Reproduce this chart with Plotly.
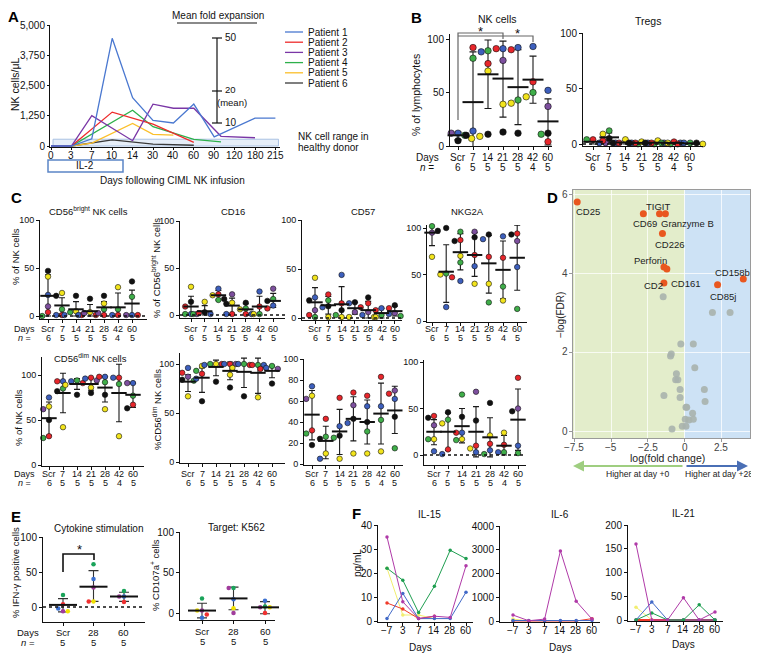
import numpy as np
import plotly.graph_objects as go

W, H = 759, 660
OFF = 8                      # page body margin of the browser
FW, FH = W - OFF, H - OFF    # figure size so that the page is exactly W x H
FONT = "Liberation Sans, Arial, Helvetica, sans-serif"

# ======================= DATA =======================
# ---- Panel A: NK cells / uL after infusion ----
a_tick_days = [0, 3, 7, 10, 14, 30, 40, 60, 90, 120, 180, 215]
a_patients = ["Patient 1", "Patient 2", "Patient 3", "Patient 4", "Patient 5", "Patient 6"]
a_p1_days = [0, 3, 7, 10, 14, 30, 40, 60, 90, 180, 215]
a_p1_vals = [0, 0, 300, 4450, 2000, 1060, 950, 1730, 380, 1150, 1150]
a_p2_days = [0, 3, 10, 30, 60]
a_p2_vals = [0, 0, 1400, 900, 150]
a_p3_days = [0, 3, 7, 14, 30, 40, 60, 100, 180]
a_p3_vals = [0, 0, 1250, 220, 1730, 1560, 1560, 400, 340]
a_p4_days = [0, 3, 14, 30, 60, 100]
a_p4_vals = [0, 0, 1480, 800, 270, 170]
a_p5_days = [0, 3, 7, 14, 30, 40]
a_p5_vals = [0, 0, 120, 930, 480, 450]
a_p6_days = [0, 3, 10, 14, 30, 60]
a_p6_vals = [0, 0, 250, 150, 80, 30]
a_healthy_range = [0, 280]
a_yticks = [0, 1250, 2500, 3750, 5000]
a_yticktext = ["0", "1,250", "2,500", "3,750", "5,000"]

# ---- shared categories ----
days_cats = ["Scr", "7", "14", "21", "28", "42", "60"]
days_n = [6, 5, 5, 5, 5, 4, 5]

# ---- Panel B ----
bnk_pts = [
    [("b", 12), ("p", 12), ("g", 10), ("r", 8), ("y", 7), ("k", 5)],
    [("r", 92), ("g", 82), ("b", 14), ("k", 10), ("y", 9)],
    [("g", 89), ("b", 88), ("r", 77), ("y", 70), ("k", 11)],
    [("b", 91), ("r", 91), ("p", 80), ("y", 39), ("k", 13)],
    [("b", 92), ("r", 90), ("g", 43), ("y", 40), ("k", 12)],
    [("b", 93), ("r", 60), ("g", 50), ("y", 46)],
    [("b", 52), ("p", 37), ("k", 12), ("g", 11), ("r", 4)],
]
bnk_mean = [10, 41, 67, 63, 55, 62, 23]
bnk_lo = [6, -6, 35, 27, 20, 40, 1]
bnk_hi = [13, 88, 99, 98, 90, 84, 44]

btr_pts = [
    [("r", 4), ("g", 4), ("b", 1), ("k", 1), ("p", 1), ("y", 0)],
    [("g", 12), ("y", 9), ("k", 5), ("r", 3), ("b", 1)],
    [("y", 4), ("r", 1), ("b", 1), ("k", 1), ("g", 0)],
    [("y", 2), ("r", 1), ("b", 1), ("k", 1), ("g", 0)],
    [("y", 3), ("r", 1), ("b", 1), ("k", 1), ("g", 0)],
    [("r", 2), ("y", 1), ("b", 1), ("g", 1)],
    [("g", 1), ("b", 1), ("k", 1), ("r", 0), ("y", 0)],
]
btr_mean = [2, 6, 1.4, 1, 1.2, 1, 0.6]
btr_lo = [0, 1, 0, 0, 0, 0, 0]
btr_hi = [4, 10, 3, 2, 2.5, 2, 1.2]

# ---- Panel C (top row) ----
c_bright_pts = [
    [("k", 47), ("y", 41), ("b", 22), ("p", 10), ("r", 4), ("g", 0)],
    [("y", 24), ("k", 21), ("g", 7), ("r", 1), ("b", 1)],
    [("k", 21), ("y", 5), ("g", 4), ("r", 1), ("b", 1)],
    [("k", 18), ("y", 4), ("p", 3), ("r", 1), ("b", 1)],
    [("k", 21), ("y", 13), ("g", 7), ("p", 3), ("r", 1)],
    [("y", 30), ("g", 7), ("r", 1), ("b", 1)],
    [("k", 36), ("g", 20), ("b", 1), ("p", 1), ("r", 1)],
]
c_bright_mean = [21, 11, 7, 5, 9, 9, 13]
c_bright_lo = [0, 2, 0, 0, 1, 0, 0]
c_bright_hi = [43, 19, 15, 12, 15, 24, 27]

c_cd16_pts = [
    [("y", 30), ("k", 14), ("r", 9), ("b", 1), ("g", 1), ("p", 1)],
    [("y", 14), ("k", 3), ("r", 2), ("b", 1), ("g", 1)],
    [("b", 28), ("r", 22), ("y", 21), ("k", 17), ("g", 16)],
    [("p", 22), ("y", 13), ("k", 12), ("r", 1), ("b", 1)],
    [("k", 13), ("g", 7), ("y", 6), ("r", 1), ("b", 1)],
    [("b", 25), ("r", 9), ("g", 1), ("y", 1)],
    [("p", 28), ("g", 17), ("k", 15), ("b", 10), ("r", 7)],
]
c_cd16_mean = [9, 4, 21, 10, 6, 9, 15]
c_cd16_lo = [0, 0, 16, 1, 1, 0, 8]
c_cd16_hi = [20, 10, 26, 18, 12, 20, 23]

c_cd57_pts = [
    [("y", 41), ("b", 21), ("k", 18), ("p", 8), ("r", 3), ("g", 1)],
    [("r", 24), ("g", 18), ("k", 12), ("b", 11), ("y", 1)],
    [("b", 44), ("r", 15), ("k", 8), ("g", 3), ("y", 1)],
    [("k", 16), ("b", 15), ("r", 11), ("p", 6), ("y", 1)],
    [("k", 21), ("r", 15), ("p", 6), ("b", 3), ("y", 1)],
    [("b", 10), ("r", 8), ("g", 3), ("y", 1)],
    [("k", 13), ("r", 10), ("p", 5), ("b", 4), ("g", 2)],
]
c_cd57_mean = [16, 13, 14, 10, 8, 5, 7]
c_cd57_lo = [0, 4, -4, 4, 0, 0, 2]
c_cd57_hi = [31, 22, 32, 16, 17, 10, 12]

c_nkg2a_pts = [
    [("g", 102), ("r", 99), ("k", 97), ("p", 95), ("b", 91), ("y", 69)],
    [("k", 100), ("g", 51), ("y", 50), ("r", 47), ("b", 15)],
    [("g", 96), ("r", 87), ("k", 86), ("y", 70), ("g", 63), ("b", 43)],
    [("p", 96), ("k", 90), ("r", 71), ("b", 59), ("y", 40)],
    [("k", 93), ("b", 88), ("r", 69), ("y", 40), ("g", 20)],
    [("b", 91), ("r", 68), ("g", 37), ("y", 22)],
    [("r", 94), ("k", 93), ("p", 86), ("b", 58), ("g", 13)],
]
c_nkg2a_mean = [95, 53, 74, 71, 62, 55, 68]
c_nkg2a_lo = [81, 20, 55, 48, 30, 24, 33]
c_nkg2a_hi = [104, 82, 94, 95, 92, 86, 103]

# ---- Panel C (bottom row) ----
c_dim_pts = [
    [("b", 75), ("y", 65), ("p", 62), ("k", 50), ("r", 32), ("g", 30)],
    [("b", 93), ("r", 93), ("g", 85), ("k", 82), ("y", 42)],
    [("g", 94), ("b", 93), ("r", 91), ("y", 89), ("k", 78)],
    [("r", 97), ("b", 96), ("p", 94), ("y", 86), ("k", 80)],
    [("b", 98), ("r", 98), ("g", 92), ("k", 78), ("y", 62)],
    [("r", 97), ("b", 97), ("g", 90), ("y", 32)],
    [("b", 91), ("p", 91), ("g", 77), ("r", 67), ("k", 63)],
]
c_dim_mean = [52, 80, 90, 90, 86, 80, 78]
c_dim_lo = [33, 58, 84, 83, 70, 48, 64]
c_dim_hi = [70, 102, 96, 97, 98, 112, 91]

c_dim16_pts = [
    [("b", 96), ("r", 91), ("p", 87), ("k", 84), ("g", 83), ("y", 67)],
    [("y", 98), ("g", 93), ("r", 90), ("b", 85), ("k", 62)],
    [("y", 100), ("g", 100), ("r", 100), ("b", 99), ("k", 82)],
    [("r", 100), ("b", 100), ("p", 100), ("y", 89), ("k", 76)],
    [("g", 100), ("b", 100), ("r", 99), ("y", 96), ("k", 67)],
    [("g", 99), ("r", 99), ("b", 99), ("y", 66)],
    [("g", 98), ("b", 96), ("p", 95), ("r", 95), ("k", 80)],
]
c_dim16_mean = [82, 86, 97, 93, 92, 91, 93]
c_dim16_lo = [72, 71, 88, 84, 76, 70, 86]
c_dim16_hi = [89, 96, 104, 102, 106, 106, 98]

c_dim57_pts = [
    [("b", 74), ("y", 65), ("p", 62), ("r", 32), ("g", 29), ("k", 18)],
    [("r", 43), ("g", 26), ("k", 24), ("y", 10), ("b", 5)],
    [("r", 63), ("b", 36), ("k", 27), ("g", 25), ("y", 5)],
    [("r", 68), ("p", 56), ("k", 43), ("b", 39), ("y", 10)],
    [("r", 65), ("b", 55), ("k", 40), ("g", 31), ("y", 10)],
    [("r", 83), ("b", 55), ("g", 42), ("y", 12)],
    [("p", 70), ("r", 67), ("b", 62), ("k", 45), ("g", 15)],
]
c_dim57_mean = [47, 22, 31, 43, 40, 48, 51]
c_dim57_lo = [23, 5, 9, 22, 19, 19, 29]
c_dim57_hi = [70, 36, 52, 64, 61, 77, 74]

c_dimg2a_pts = [
    [("r", 42), ("k", 40), ("p", 32), ("y", 17), ("g", 17), ("b", 4)],
    [("k", 46), ("g", 38), ("y", 34), ("r", 6), ("b", 1)],
    [("g", 65), ("k", 41), ("b", 24), ("r", 24), ("y", 17), ("g", 16)],
    [("p", 68), ("k", 37), ("r", 10), ("y", 7), ("b", 3)],
    [("k", 56), ("y", 21), ("r", 12), ("b", 5), ("g", 1)],
    [("y", 24), ("r", 11), ("g", 3), ("b", 3)],
    [("r", 83), ("p", 50), ("k", 47), ("b", 10), ("g", 2)],
]
c_dimg2a_mean = [25, 25, 31, 25, 19, 10, 38]
c_dimg2a_lo = [11, 5, 13, -2, -2, 0, 5]
c_dimg2a_hi = [38, 45, 50, 52, 40, 21, 71]

# ---- Panel D: volcano ----
d_sig_names = ["CD25", "CD69", "TIGIT", "Granzyme B", "CD226", "Perforin", "CD161", "CD2", "CD85j", "CD158b"]
d_sig_fc = [-7.3, -2.8, -1.7, -1.3, -1.5, -1.4, -1.2, -1.4, 2.25, 4.0]
d_sig_fdr = [5.8, 5.5, 5.5, 5.5, 5.0, 4.15, 4.1, 3.75, 3.7, 3.85]
d_ns_fc = [-1.45, 1.9, 3.1, -0.25, 0.6, -0.95, -0.9, 0.7, -0.55, -0.6, -0.45, -0.3, 1.35,
           -1.4, -0.3, 1.4, 0.1, 0.15, 0.55, 0.05, 0.3, 0.6, -0.15, 0.1, -0.85]
d_ns_fdr = [3.4, 3.0, 3.0, 2.2, 2.2, 1.9, 1.95, 1.6, 1.45, 1.3, 1.3, 1.05, 1.05,
            0.9, 0.85, 0.75, 0.6, 0.6, 0.45, 0.3, 0.28, 0.3, 0.12, 0.12, 0.05]
d_xticks = [-7.5, -5, -2.5, 0, 2.5]
d_xticktext = ["\u22127.5", "\u22125", "\u22122.5", "0", "2.5"]
d_yticks = [0, 2, 4, 6]

# ---- Panel E ----
e_cats = ["Scr", "28", "60"]
e_n = [5, 5, 5]
e_ifn_pts = [
    [("g", 17), ("r", 4), ("b", -2), ("p", -6), ("y", -6)],
    [("g", 61), ("b", 40), ("p", 28), ("y", 8), ("r", 8)],
    [("g", 23), ("b", 15), ("p", 15), ("r", 7)],
]
e_ifn_mean = [3, 29, 15]
e_ifn_lo = [-7, 8, 8]
e_ifn_hi = [12, 52, 21]
e_cd107_pts = [
    [("g", 18), ("p", 3), ("y", 3), ("r", -2), ("b", -6)],
    [("g", 31), ("p", 31), ("b", 17), ("y", 6), ("p", 0)],
    [("b", 15), ("g", 8), ("p", 7), ("y", 7), ("r", 0)],
]
e_cd107_mean = [3, 18, 7]
e_cd107_lo = [-6, 4, -1]
e_cd107_hi = [12, 32, 14]

# ---- Panel F: cytokines (pg/mL) ----
f_days = ["\u22127", "3", "7", "14", "28", "60"]
f_il15 = {
    "y": [22, 2.5, 2.5, 1, None, None],
    "r": [7.5, 5, 1, 2, None, None],
    "b": [1, 11.5, 1, 1, 1, 12],
    "g": [22, 17, 3.5, 14.5, 29.5, 26],
    "m": [35, 8, 1, 2, 1.5, 23],
}
f_il6 = {
    "y": [80, 0, None, None, None, None],
    "r": [0, 0, 0, 0, 0, 100],
    "b": [20, 20, 20, 20, 20, 20],
    "m": [250, 10, 80, 2950, 830, 80],
}
f_il21 = {
    "r": [0, 0, 0, 0, 0, 0],
    "y": [27, 0, None, None, None, None],
    "b": [0, 38, 0, 0, 0, 0],
    "g": [0, 15, 0, 0, 32, 0],
    "m": [160, 0, 0, 47, 0, 17],
}

# ======================= STYLE =======================
COL = {"b": "#3d5fbd", "r": "#e8262b", "g": "#3fae49", "y": "#f2e41c", "p": "#7d4f9e", "k": "#111111"}
ECOL = {"b": "#3a6fd0", "r": "#f03030", "g": "#1aa35a", "y": "#f2e200", "p": "#a03c9c", "k": "#111111"}
FCOL = {"b": "#4169c8", "r": "#f03a2a", "g": "#1e9e50", "y": "#f2ee70", "m": "#b03aa8"}
A_COL = ["#4a78d0", "#ee2b2b", "#7a36a6", "#2db04b", "#fbbf2a", "#3a3a3a"]

fig = go.Figure()
layout = {}
anns = []
shapes = []


def PX(x):
    return (x - OFF) / FW


def PY(y):
    return 1 - (y - OFF) / FH


def txt(s, x, y, size=10, xa="center", ya="middle", color="#111", angle=0):
    anns.append(dict(text=s, x=PX(x), y=PY(y), xref="paper", yref="paper", showarrow=False,
                     xanchor=xa, yanchor=ya, textangle=angle,
                     font=dict(size=size, color=color, family=FONT)))


def pline(x0, y0, x1, y1, color="#111", width=1, dash=None):
    shapes.append(dict(type="line", xref="paper", yref="paper", x0=PX(x0), x1=PX(x1),
                       y0=PY(y0), y1=PY(y1), line=dict(color=color, width=width, dash=dash)))


def ppath(pts, color="#111", width=1):
    p = "M " + " L ".join(f"{PX(x):.5f},{PY(y):.5f}" for x, y in pts)
    shapes.append(dict(type="path", xref="paper", yref="paper", path=p, line=dict(color=color, width=width)))


def set_axes(i, L, T, R, B, xr, yr, xkw=None, ykw=None):
    sx = "" if i == 1 else str(i)
    base = dict(showline=True, linecolor="#111", linewidth=1, ticks="outside", ticklen=3, tickwidth=1,
                tickcolor="#111", showgrid=False, zeroline=False, fixedrange=True, automargin=False,
                tickfont=dict(size=9.5, color="#111", family=FONT))
    xa = dict(base, domain=[PX(L), PX(R)], range=xr, anchor="y" + sx)
    ya = dict(base, domain=[PY(B), PY(T)], range=yr, anchor="x" + sx)
    if xkw:
        xa.update(xkw)
    if ykw:
        ya.update(ykw)
    layout["xaxis" + sx] = xa
    layout["yaxis" + sx] = ya
    return sx


def cat_axes(i, L, T, R, B, cat0, sp, v0, p0, v1, p1, yticks, cats, ns, row1, row2, fs=9.5, zero_dot=False,
             yfs=None):
    k = (p0 - p1) / (v1 - v0)
    xr = [(L - cat0) / sp, (R - cat0) / sp]
    yr = [v0 - (B - p0) / k, v0 + (p0 - T) / k]
    sx = set_axes(i, L, T, R, B, xr, yr,
                  xkw=dict(tickvals=list(range(len(cats))), showticklabels=False),
                  ykw=dict(tickvals=yticks, tickfont=dict(size=yfs or fs, family=FONT, color="#111")))
    for j, (c, n) in enumerate(zip(cats, ns)):
        txt(c, cat0 + j * sp, row1, size=fs)
        txt(str(n), cat0 + j * sp, row2, size=fs)
    if zero_dot:
        shapes.append(dict(type="line", xref=f"x{sx} domain", yref=f"y{sx}", x0=0, x1=1, y0=0, y1=0,
                           line=dict(color="#111", width=1.6, dash="dot")))
    return sx, k, sp


def swarm(vals, k, sp, d):
    placed, offs = [], []
    for v in vals:
        py = v * k
        chosen = 0
        for c in [0, -d, d, -2 * d, 2 * d, -3 * d, 3 * d]:
            if all((c - qx) ** 2 + (py - qy) ** 2 >= (d * 0.92) ** 2 for qx, qy in placed):
                chosen = c
                break
        placed.append((chosen, py))
        offs.append(chosen / sp)
    return offs


def dot_panel(spec, pts, mean, lo, hi, cmap=COL, msize=6, outline=True, barw=12, capw=3, ecol="#1a1a1a", bar_lw=2):
    sx, k, sp = spec
    n = len(pts)
    ax = dict(xaxis="x" + sx, yaxis="y" + sx, showlegend=False, hoverinfo="skip")
    fig.add_trace(go.Scatter(x=list(range(n)), y=mean, mode="markers",
                             marker=dict(size=1, color="rgba(0,0,0,0)"),
                             error_y=dict(type="data", symmetric=False,
                                          array=[h - m for h, m in zip(hi, mean)],
                                          arrayminus=[m - l for m, l in zip(mean, lo)],
                                          color=ecol, thickness=1.1, width=capw), **ax))
    xs, ys, cs = [], [], []
    for i, grp in enumerate(pts):
        vals = [v for _, v in grp]
        offs = swarm(vals, k, sp, msize + 0.3)
        for (c, v), o in zip(grp, offs):
            xs.append(i + o)
            ys.append(v)
            cs.append(cmap[c])
    fig.add_trace(go.Scatter(x=xs, y=ys, mode="markers", cliponaxis=False,
                             marker=dict(size=msize, color=cs,
                                         line=dict(width=0.6 if outline else 0, color="#111")), **ax))
    fig.add_trace(go.Scatter(x=list(range(n)), y=mean, mode="markers", cliponaxis=False,
                             marker=dict(symbol="line-ew", size=barw, color="#111",
                                         line=dict(width=bar_lw, color="#111")), **ax))


# ======================= PANEL A =======================
a_L, a_T, a_R, a_B = 50, 25, 280, 147
a_c0, a_sp = 51, 20.4
a_k = (146 - 25) / 5000
set_axes(1, a_L, a_T, a_R, a_B, [(a_L - a_c0) / a_sp, (a_R - a_c0) / a_sp], [-(a_B - 146) / a_k, 5000],
         xkw=dict(tickvals=list(range(len(a_tick_days))), showticklabels=False, ticklen=2),
         ykw=dict(tickvals=a_yticks, ticktext=a_yticktext, tickfont=dict(size=10, family=FONT, color="#111"),
                  ticklen=2))
for j, dd in enumerate(a_tick_days):
    txt(str(dd), a_c0 + j * a_sp, 155, size=10)


def a_pos(days):
    return np.interp(days, a_tick_days, np.arange(len(a_tick_days)))


shapes.append(dict(type="rect", xref="x", yref="y", x0=a_pos(0.3), x1=a_pos(215) + 0.15,
                   y0=a_healthy_range[0], y1=a_healthy_range[1], layer="below",
                   fillcolor="#e6eef8", line=dict(color="#a9c1e2", width=1)))
a_series = [(a_p1_days, a_p1_vals), (a_p2_days, a_p2_vals), (a_p3_days, a_p3_vals),
            (a_p4_days, a_p4_vals), (a_p5_days, a_p5_vals), (a_p6_days, a_p6_vals)]
for j in [5, 4, 3, 1, 2, 0]:
    d, v = a_series[j]
    fig.add_trace(go.Scatter(x=a_pos(d), y=v, mode="lines", line=dict(color=A_COL[j], width=1.3),
                             xaxis="x", yaxis="y", showlegend=False, hoverinfo="skip"))
# legend
for j, name in enumerate(a_patients):
    yy = 32 + 10.2 * j
    pline(285, yy, 303, yy, color=A_COL[j], width=1.3)
    txt(name, 306, yy, size=10, xa="left")
# fold expansion scale
txt("Mean fold expansion", 218, 15, size=10)
pline(177, 23, 257, 23, color="#8a8a8a", width=2)
pline(217, 38, 217, 123, width=1.2)
for yy in (38, 91, 123):
    pline(212, yy, 222, yy, width=1.2)
txt("50", 223, 38, size=10, xa="left")
txt("20", 223, 89.5, size=9.5, xa="left")
txt("(mean)", 215, 102, size=9.5, xa="left")
txt("10", 223, 123, size=10, xa="left")
txt("NK cell range in", 296, 137, size=10, xa="left")
txt("healthy donor", 296, 147, size=10, xa="left")
shapes.append(dict(type="rect", xref="paper", yref="paper", x0=PX(48), x1=PX(123), y0=PY(172), y1=PY(160),
                   line=dict(color="#5b85c6", width=1.5)))
txt("IL-2", 85, 166, size=10)
txt("Days following CIML NK infusion", 172, 180, size=10)
txt("NK cells/\u03bcL", 15, 85, size=10.5, angle=-90)

# ======================= PANEL B =======================
sB1 = cat_axes(2, 450, 34, 552, 146, 458, 15, 0, 146, 100, 39, [0, 50, 100], days_cats, days_n, 157, 167, fs=10)
dot_panel(sB1, bnk_pts, bnk_mean, bnk_lo, bnk_hi, msize=6.5, barw=15, capw=3.5)
sB2 = cat_axes(3, 583, 33, 703, 146, 593, 16.2, 0, 144, 100, 33, [0, 50, 100], days_cats, days_n, 157, 167, fs=10,
               zero_dot=True)
dot_panel(sB2, btr_pts, btr_mean, btr_lo, btr_hi, barw=14, capw=3)
txt("NK cells", 497, 19, size=10.5)
txt("Tregs", 648, 21, size=10.5)
txt("% of lymphocytes", 416, 95, size=10.5, angle=-90)
txt("Days", 427, 157, size=10)
txt("<i>n</i> =", 427, 167, size=10)
ppath([(458, 120), (458, 33), (503, 33), (503, 39)], color="#666", width=1.2)
ppath([(458, 36), (533, 36), (533, 42)], color="#666", width=1.2)
txt("*", 480, 31, size=13)
txt("*", 517, 34, size=13)

# ======================= PANEL C =======================
cfs = 9
s1 = cat_axes(4, 40, 220, 147, 319, 48, 14, 0, 316, 100, 220, [0, 50, 100], days_cats, days_n, 329, 338, fs=cfs, zero_dot=True)
dot_panel(s1, c_bright_pts, c_bright_mean, c_bright_lo, c_bright_hi, msize=5.5, barw=11)
s2 = cat_axes(5, 180, 221, 285, 318, 191, 13.7, 0, 315, 100, 221, [0, 50, 100], days_cats, days_n, 329, 338, fs=cfs, zero_dot=True)
dot_panel(s2, c_cd16_pts, c_cd16_mean, c_cd16_lo, c_cd16_hi, msize=5.5, barw=11)
s3 = cat_axes(6, 302, 220, 402, 320, 315, 13.3, 0, 318, 100, 220, [0, 50, 100], days_cats, days_n, 329, 338, fs=cfs, zero_dot=True)
dot_panel(s3, c_cd57_pts, c_cd57_mean, c_cd57_lo, c_cd57_hi, msize=5.5, barw=11)
s4 = cat_axes(7, 427, 225, 527, 322, 432, 14.2, 0, 321, 100, 228, [0, 50, 100], days_cats, days_n, 329, 338, fs=cfs)
dot_panel(s4, c_nkg2a_pts, c_nkg2a_mean, c_nkg2a_lo, c_nkg2a_hi, msize=5.5, barw=11)

s5 = cat_axes(8, 42, 357, 144, 466, 49, 14, 0, 465, 100, 375, [0, 50, 100], days_cats, days_n, 474, 483, fs=cfs)
dot_panel(s5, c_dim_pts, c_dim_mean, c_dim_lo, c_dim_hi, msize=5.5, barw=11)
s6 = cat_axes(9, 180, 353, 285, 463, 188, 14, 0, 462, 100, 364, [0, 50, 100], days_cats, days_n, 474, 483, fs=cfs)
dot_panel(s6, c_dim16_pts, c_dim16_mean, c_dim16_lo, c_dim16_hi, msize=5.5, barw=11)
s7 = cat_axes(10, 304, 359, 403, 465, 312, 13.8, 0, 464, 100, 359, [0, 20, 40, 60, 80, 100], days_cats, days_n, 474, 483, fs=cfs)
dot_panel(s7, c_dim57_pts, c_dim57_mean, c_dim57_lo, c_dim57_hi, msize=5.5, barw=11)
s8 = cat_axes(11, 424, 360, 526, 465, 434, 14, 0, 455, 100, 362, [0, 50, 100], days_cats, days_n, 474, 483, fs=cfs, zero_dot=True)
dot_panel(s8, c_dimg2a_pts, c_dimg2a_mean, c_dimg2a_lo, c_dimg2a_hi, msize=5.5, barw=11)

txt("CD56<sup>bright</sup> NK cells", 88, 211, size=9.5)
txt("CD16", 233, 211, size=9.5)
txt("CD57", 363, 211, size=9.5)
txt("NKG2A", 467, 212, size=9.5)
txt("CD56<sup>dim</sup> NK cells", 90, 358, size=9.5)
txt("% of NK cells", 15, 257, size=9.5, angle=-90)
txt("% of CD56<sup>bright</sup> NK cells", 156, 268, size=9.5, angle=-90)
txt("% of NK cells", 18, 418, size=9.5, angle=-90)
txt("%CD56<sup>dim</sup> NK cells", 157, 410, size=9.5, angle=-90)
for yy1, yy2 in ((329, 338), (474, 483)):
    txt("Days", 24, yy1, size=9)
    txt("<i>n</i> =", 24, yy2, size=9)

# ======================= PANEL D =======================
d_x0px, d_kx = 684.5, 14.7
d_y0px, d_ky = 431, 39.5
dL, dT, dR, dB = 573, 190, 750, 438
set_axes(12, dL, dT, dR, dB, [(dL - d_x0px) / d_kx, (dR - d_x0px) / d_kx], [(d_y0px - dB) / d_ky, (d_y0px - dT) / d_ky],
         xkw=dict(tickvals=d_xticks, showticklabels=False, linecolor="#9a9a9a", tickcolor="#9a9a9a", mirror=True,
                  showgrid=True, gridcolor="rgba(255,255,255,0.75)", gridwidth=1),
         ykw=dict(tickvals=d_yticks, showticklabels=False, linecolor="#9a9a9a", tickcolor="#9a9a9a", mirror=True,
                  showgrid=True, gridcolor="rgba(255,255,255,0.75)", gridwidth=1))
for v, t in zip(d_xticks, d_xticktext):
    txt(t, d_x0px + v * d_kx, 447, size=10, color="#444")
for v in d_yticks:
    txt(str(v), 570, d_y0px - v * d_ky, size=10, color="#444", xa="right")
shapes.append(dict(type="rect", xref="x12", yref="y12 domain", x0=(dL - d_x0px) / d_kx, x1=0, y0=0, y1=1,
                   layer="below", fillcolor="#e3edcb", line=dict(width=0)))
shapes.append(dict(type="rect", xref="x12", yref="y12 domain", x0=0, x1=(dR - d_x0px) / d_kx, y0=0, y1=1,
                   layer="below", fillcolor="#cde2f5", line=dict(width=0)))
fig.add_trace(go.Scatter(x=d_ns_fc, y=d_ns_fdr, mode="markers", xaxis="x12", yaxis="y12",
                         marker=dict(size=7, color="#a8b2ad", opacity=0.9), showlegend=False, hoverinfo="skip"))
fig.add_trace(go.Scatter(x=d_sig_fc, y=d_sig_fdr, mode="markers", xaxis="x12", yaxis="y12",
                         marker=dict(size=7, color="#e9571f"), showlegend=False, hoverinfo="skip"))
d_label_px = {"CD25": (588, 212), "TIGIT": (658, 206), "CD69": (645, 224), "Granzyme B": (687, 224),
              "CD226": (670, 244), "Perforin": (650, 260), "CD161": (686, 283), "CD2": (653, 285),
              "CD158b": (732, 272), "CD85j": (723, 296)}
for nm in d_sig_names:
    x, y = d_label_px[nm]
    txt(nm, x, y, size=9.5, color="#222")
txt("\u2212log(FDR)", 560, 315, size=10, angle=-90, color="#222")
txt("log(fold change)", 667, 458, size=10.5, color="#222")
anns.append(dict(x=PX(573), y=PY(466), xref="paper", yref="paper", ax=111, ay=0, text="", showarrow=True,
                 arrowhead=2, arrowsize=1, arrowwidth=2.2, arrowcolor="#9fce80"))
anns.append(dict(x=PX(748), y=PY(466), xref="paper", yref="paper", ax=-63, ay=0, text="", showarrow=True,
                 arrowhead=2, arrowsize=1, arrowwidth=2.2, arrowcolor="#4a6fb5"))
txt("Higher at day +0", 638, 474, size=8.6, color="#222")
txt("Higher at day +28", 719, 474, size=8.6, color="#222")

# ======================= PANEL E =======================
e1 = cat_axes(13, 43, 537, 145, 622, 63, 30.5, 0, 607, 100, 537, [0, 50, 100], e_cats, e_n, 632, 642, fs=9.5,
              zero_dot=True, yfs=10)
dot_panel(e1, e_ifn_pts, e_ifn_mean, e_ifn_lo, e_ifn_hi, cmap=ECOL, msize=4.5, outline=False, barw=20, capw=5,
          ecol="#333")
e2 = cat_axes(14, 180, 532, 275, 620, 202, 31.5, 0, 613, 100, 532, [0, 50, 100], e_cats, e_n, 631, 641, fs=9.5,
              yfs=10)
dot_panel(e2, e_cd107_pts, e_cd107_mean, e_cd107_lo, e_cd107_hi, cmap=ECOL, msize=4.5, outline=False, barw=20,
          capw=5, ecol="#333")
txt("Cytokine stimulation", 98, 528, size=10)
txt("Target: K562", 237, 527, size=10)
txt("% IFN-\u03b3 positive cells", 15, 573, size=9.5, angle=-90)
txt("% CD107a<sup>+</sup> cells", 155, 575, size=9.5, angle=-90)
txt("Days", 28, 632, size=9.5)
txt("<i>n</i> =", 28, 642, size=9.5)
ppath([(63, 572), (63, 554), (94, 554), (94, 560)], color="#111", width=1.6)
txt("*", 79, 549, size=13)

# ======================= PANEL F =======================
f_specs = [
    (15, 378, 525, 473, 622, 387, 15.8, 40, [0, 10, 20, 30, 40], f_il15, "IL-15", 430, 515, 647),
    (16, 500, 526, 600, 622, 513, 15.8, 4000, [0, 1000, 2000, 3000, 4000], f_il6, "IL-6", 560, 515, 647),
    (17, 628, 525, 723, 621, 636, 15.8, 200, [0, 50, 100, 150, 200], f_il21, "IL-21", 683, 513, 644),
]
for (i, L, T, R, B, c0, sp, vmax, yt, series, title, tx, ty, dy) in f_specs:
    p0 = B - 1
    k = (p0 - T) / vmax
    sx = set_axes(i, L, T, R, B, [(L - c0) / sp, (R - c0) / sp], [-(B - p0) / k, vmax],
                  xkw=dict(tickvals=list(range(len(f_days))), showticklabels=False),
                  ykw=dict(tickvals=yt, tickfont=dict(size=10, family=FONT, color="#111")))
    for j, lab in enumerate(f_days):
        txt(lab, c0 + j * sp, B + 8, size=10)
    for key, vals in series.items():
        lw = 2.2 if (key == "r" and title == "IL-21") else 1
        fig.add_trace(go.Scatter(x=list(range(len(f_days))), y=vals, mode="lines+markers", cliponaxis=False,
                                 line=dict(color=FCOL[key], width=lw), marker=dict(size=3.5, color=FCOL[key]),
                                 xaxis="x" + sx, yaxis="y" + sx, showlegend=False, hoverinfo="skip"))
    txt(title, tx, ty, size=10)
    txt("Days", tx - (10 if title == "IL-15" else 0), dy, size=10)
txt("pg/mL", 357, 563, size=10, angle=-90)

# ======================= PANEL LETTERS =======================
for lt, x, y in (("A", 13, 16), ("B", 416, 17), ("C", 16, 197), ("D", 552, 197), ("E", 16, 516), ("F", 356, 513)):
    txt(f"<b>{lt}</b>", x, y, size=15, color="#000")

fig.update_layout(**layout)
fig.update_layout(width=FW, height=FH, margin=dict(l=0, r=0, t=0, b=0, autoexpand=False), paper_bgcolor="white",
                  plot_bgcolor="rgba(0,0,0,0)", showlegend=False, annotations=anns, shapes=shapes,
                  font=dict(family=FONT, size=10, color="#111"))
fig.write_html("out.html")
